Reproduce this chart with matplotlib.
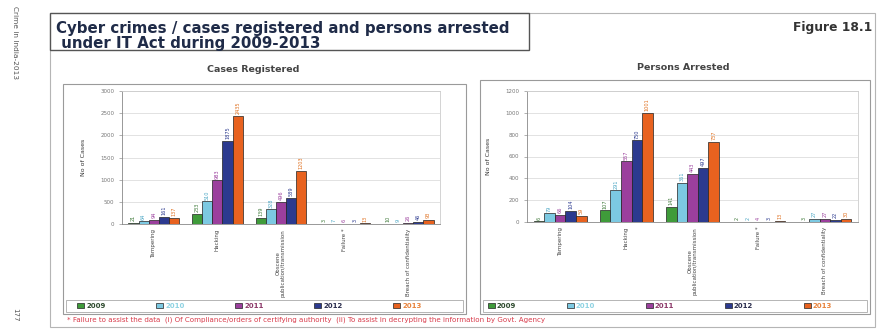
import numpy as np
import matplotlib
matplotlib.use("Agg")
import matplotlib.pyplot as plt
from matplotlib.patches import Rectangle

# ---- data ----
categories = ["Tampering", "Hacking", "Obscene\npublication/transmission",
              "Failure *", "Breach of confidentiality"]
years = ["2009", "2010", "2011", "2012", "2013"]

cases_2009 = [21, 233, 139, 3, 10]
cases_2010 = [64, 510, 328, 7, 9]
cases_2011 = [94, 983, 496, 6, 26]
cases_2012 = [161, 1875, 589, 3, 46]
cases_2013 = [137, 2435, 1203, 13, 93]

arrests_2009 = [6, 107, 141, 2, 3]
arrests_2010 = [79, 291, 361, 2, 27]
arrests_2011 = [66, 557, 443, 4, 27]
arrests_2012 = [104, 750, 497, 3, 22]
arrests_2013 = [59, 1001, 737, 13, 30]

bar_colors = ["#3f9b3a", "#7cc9e2", "#9b3f9d", "#2c3a8f", "#e8621f"]
legend_text_colors = ["#2e4a2e", "#8fd3e3", "#8d3a6a", "#2a2d4e", "#e8843e"]
label_colors = ["#3f7a3a", "#4aa6c4", "#9b3f9d", "#2c3a8f", "#e0701f"]

W, H = 878, 331
fig = plt.figure(figsize=(W / 100, H / 100), dpi=100)


def fx(px):
    return px / W


def fy(py):
    return 1 - py / H


def frame(x0, y0, x1, y1, lw=0.8, ec="#9a9a9a", z=0):
    fig.patches.append(Rectangle((fx(x0), fy(y1)), fx(x1) - fx(x0), fy(y0) - fy(y1),
                                 transform=fig.transFigure, fill=False,
                                 ec=ec, lw=lw, zorder=z))


# outer frame, panels, title box
frame(50, 13, 875, 327, lw=0.8, ec="#b5b5b5")
frame(63, 84, 466, 314, lw=0.8, ec="#9a9a9a")
frame(480, 80, 870, 314, lw=0.8, ec="#9a9a9a")
fig.patches.append(Rectangle((fx(50), fy(50)), fx(529) - fx(50), fy(13) - fy(50),
                             transform=fig.transFigure, fc="white", ec="#555555",
                             lw=1.0, zorder=2))

fig.text(fx(56), fy(21), "Cyber crimes / cases registered and persons arrested\n under IT Act during 2009-2013",
         ha="left", va="top", fontsize=10.8, fontweight="bold", color="#1f2b48",
         linespacing=1.0, zorder=3)
fig.text(fx(872), fy(28), "Figure 18.1", ha="right", va="center", fontsize=8.8,
         fontweight="bold", color="#333333")

fig.text(fx(15), fy(6), "Crime in India-2013", rotation=270, ha="center", va="top",
         fontsize=5.3, color="#555555")
fig.text(fx(15), fy(322), "177", rotation=270, ha="center", va="bottom",
         fontsize=5, color="#555555")

fig.text(fx(67), fy(320), "* Failure to assist the data  (i) Of Compliance/orders of certifying authority  "
         "(ii) To assist in decrypting the information by Govt. Agency",
         ha="left", va="center", fontsize=5.1, color="#d83a4a")


def panel(rect, series, title, title_xy, ylim, ystep, legend_box):
    ax = fig.add_axes(rect)
    x = np.arange(len(categories))
    width = 0.16
    handles = []
    for i, vals in enumerate(series):
        pos = x + (i - 2) * width
        b = ax.bar(pos, vals, width, color=bar_colors[i], edgecolor="#222222",
                   linewidth=0.5, zorder=3, label=years[i])
        handles.append(b)
        for p, v in zip(pos, vals):
            ax.text(p, v + ylim * 0.012, str(v), rotation=90, ha="center", va="bottom",
                    fontsize=3.6, color=label_colors[i], zorder=4)
    ax.set_xlim(-0.5, len(categories) - 0.5)
    ax.set_ylim(0, ylim)
    ax.set_yticks(np.arange(0, ylim + 1, ystep))
    ax.tick_params(axis="y", labelsize=4, colors="#777777", length=2, width=0.4)
    ax.tick_params(axis="x", length=0)
    ax.set_xticks(x)
    ax.set_xticklabels(categories, rotation=90, fontsize=4, color="#444444",
                       linespacing=1.0, ha="center", va="top")
    ax.grid(axis="y", color="#dddddd", lw=0.6, zorder=0)
    for s in ["top", "right"]:
        ax.spines[s].set_color("#cccccc")
    for s in ["left", "bottom"]:
        ax.spines[s].set_color("#888888")
    for s in ax.spines.values():
        s.set_linewidth(0.6)
    ax.set_ylabel("No of Cases", fontsize=4.5, color="#333333", labelpad=10)
    fig.text(fx(title_xy[0]), fy(title_xy[1]), title, ha="center", va="center",
             fontsize=6.8, fontweight="bold", color="#444444")

    x0, y0, x1, y1 = legend_box
    frame(x0, y0, x1, y1, lw=0.6, ec="#aaaaaa")
    leg = fig.legend(handles=handles, labels=years, loc="center",
                     bbox_to_anchor=(fx((x0 + x1) / 2 - 15), fy((y0 + y1) / 2)),
                     ncol=5, fontsize=5, frameon=False,
                     handlelength=1.0, handleheight=0.7, handletextpad=0.3,
                     columnspacing=7.3, borderpad=0.1, borderaxespad=0)
    for t, c in zip(leg.get_texts(), legend_text_colors):
        t.set_color(c)
        t.set_fontweight("bold")
    return ax


cases = [cases_2009, cases_2010, cases_2011, cases_2012, cases_2013]
arrests = [arrests_2009, arrests_2010, arrests_2011, arrests_2012, arrests_2013]

panel([fx(122), fy(224), fx(440) - fx(122), fy(91) - fy(224)], cases,
      "Cases Registered", (253, 70), 3000, 500, (66, 300, 463, 312))
panel([fx(527), fy(222), fx(858) - fx(527), fy(91) - fy(222)], arrests,
      "Persons Arrested", (683, 68), 1200, 200, (483, 300, 867, 312))

fig.savefig("out.png", dpi=100, facecolor="white")
